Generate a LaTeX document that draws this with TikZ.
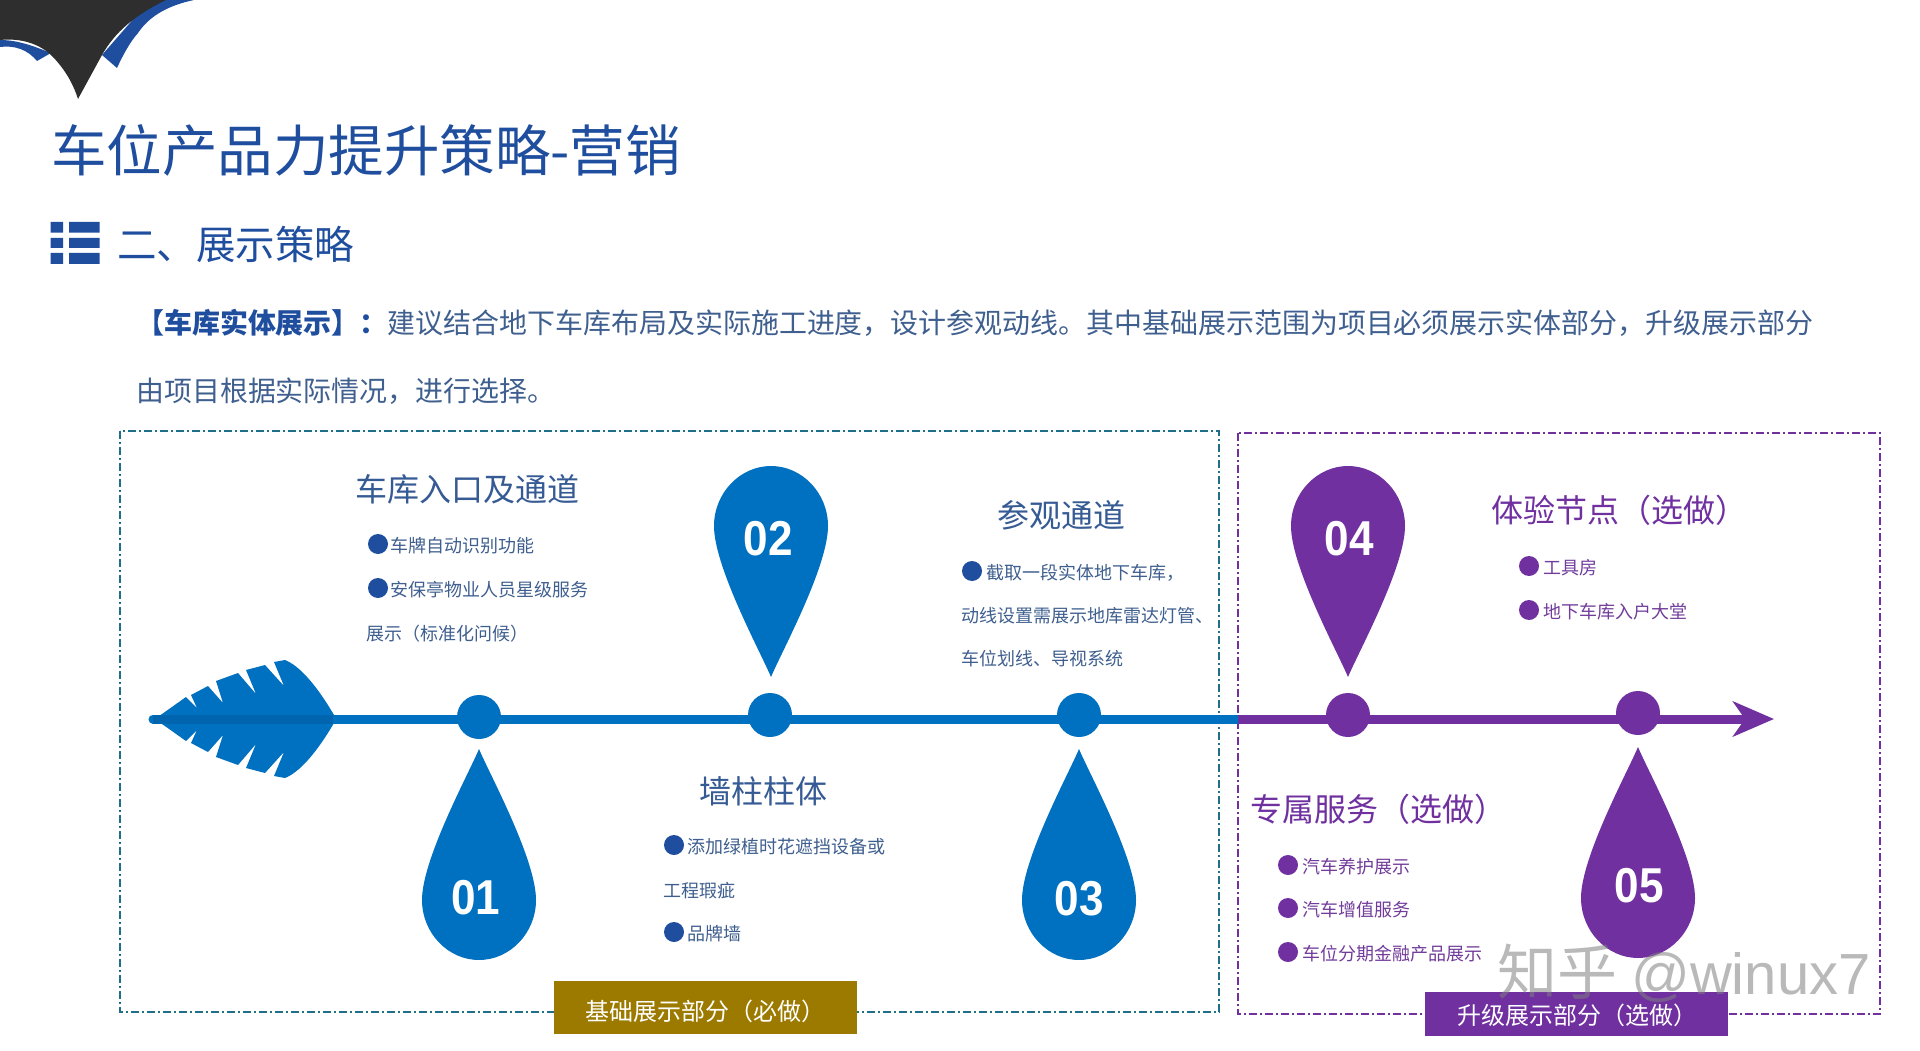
\documentclass[tikz,border=0pt]{standalone}
\usepackage{fontspec}
\setmainfont{Noto Sans CJK SC}
\newfontfamily\numfont{Liberation Sans}
\usepackage{tikz}
\usetikzlibrary{arrows.meta}
\definecolor{navy}{HTML}{1F4E9F}
\definecolor{slate}{HTML}{3F5F8F}
\definecolor{ocean}{HTML}{0070C0}
\definecolor{deepocean}{HTML}{0064AE}
\definecolor{grape}{HTML}{7030A0}
\definecolor{gold}{HTML}{9C7A00}
\definecolor{teal}{HTML}{1F6F8B}
\tikzset{
  txt/.style = {anchor=west, inner sep=0pt, yshift=-1pt, text=slate, font=\fontsize{18}{20}\selectfont},
  purpletxt/.style = {txt, text=grape!85!gray},
  head/.style = {anchor=west, inner sep=0pt, yshift=-1pt, text=slate!70!navy, font=\fontsize{32}{36}\selectfont},
  purplehead/.style = {head, text=grape},
  para/.style = {anchor=west, inner sep=0pt, yshift=-1pt, text=slate, font=\fontsize{27.95}{32}\selectfont},
  dot/.style = {circle, fill=navy, inner sep=0pt, minimum size=20pt},
  purpledot/.style = {dot, fill=grape},
  stop/.style = {circle, fill=ocean, inner sep=0pt, minimum size=44pt},
  purplestop/.style = {stop, fill=grape},
  num/.style = {text=white, inner sep=0pt, yshift=-1pt, xscale=.9, font=\numfont\bfseries\fontsize{49}{52}\selectfont},
  tag/.style = {inner sep=0pt, text=white, font=\fontsize{24}{28}\selectfont},
  zone/.style = {line width=1.3pt, dash pattern=on 8pt off 3pt on 2pt off 3pt},
  droplet/.pic = {
    \fill (0,0) .. controls (10,24) and (57,110) .. (57,151)
      .. controls (57,184) and (31,211) .. (0,211)
      .. controls (-31,211) and (-57,184) .. (-57,151)
      .. controls (-57,110) and (-10,24) .. (0,0) -- cycle;
  },
  halfleaf/.pic = {
    \fill (155,0) -- (186,-22) -- (197,-11) -- (191,-24) -- (208,-33) -- (223,-16)
      -- (216,-38) -- (238,-46) -- (256,-25) -- (246,-49) -- (265,-54) -- (284,-33)
      -- (274,-57) -- (285,-59) .. controls (300,-53) and (317,-33) .. (334,-4)
      -- (334,0) -- cycle;
  }
}
\begin{document}
\begin{tikzpicture}[x=1pt,y=-1pt]
\useasboundingbox (0,0) rectangle (1920,1051);
\fill[white] (0,0) rectangle (1920,1051);

\fill[navy] (0,40) .. controls (20,40) and (38,48) .. (51,53) -- (37,61)
  .. controls (28,50) and (15,45) .. (0,47) -- cycle;
\fill[navy] (102,55) -- (150,0) -- (194,0) .. controls (170,5) and (150,15) .. (138,33)
  .. controls (130,42) and (123,55) .. (117,68) -- cycle;
\fill[black!82] (0,0) -- (166,0) .. controls (135,15) and (115,32) .. (102,55) -- (78,99)
  .. controls (72,80) and (62,66) .. (51,55) .. controls (38,43) and (20,38) .. (0,40) -- cycle;

\node[anchor=west, inner sep=0pt, text=navy, font=\fontsize{55.5}{60}\selectfont] (title) at (51,150) {车位产品力提升策略-营销};
\fill[navy] (50.5,222) rectangle (63,232.7) (69,222) rectangle (99.5,232.7);
\fill[navy] (50.5,238) rectangle (63,248) (69,238) rectangle (99.5,248);
\fill[navy] (50.5,253) rectangle (63,264) (69,253) rectangle (99.5,264);
\node[anchor=west, inner sep=0pt, text=navy, font=\fontsize{39.5}{44}\selectfont] (sub) at (117,244) {二、展示策略};
\node[para] (p1) at (136,322) {{\bfseries\color{navy}【车库实体展示】：}建议结合地下车库布局及实际施工进度，设计参观动线。其中基础展示范围为项目必须展示实体部分，升级展示部分};
\node[para] (p2) at (136,390) {由项目根据实际情况，进行选择。};

\draw[zone, teal] (120,431) rectangle (1219,1012);
\draw[zone, grape] (1238,433) rectangle (1880,1014);

\coordinate (tail) at (153,719);
\coordinate (split) at (1238,719);
\coordinate (tip) at (1774,719);
\pic[ocean] at (0,719) {halfleaf};
\pic[ocean, yscale=-1] at (0,719) {halfleaf};
\draw[line width=9pt, line cap=round, ocean] (tail) -- (split);
\draw[line width=9pt, deepocean] (tail) -- (333,719);
\draw[line width=9pt, grape, -{Stealth[length=41pt,width=35pt,inset=12pt]}] (split) -- (tip);

\node[stop] (s1) at (479,717) {};
\node[stop] (s2) at (770,715) {};
\node[stop] (s3) at (1079,715) {};
\node[purplestop] (s4) at (1348,715) {};
\node[purplestop] (s5) at (1638,713) {};

\pic[ocean] at (479,749) {droplet};
\pic[ocean, yscale=-1] at (771,677) {droplet};
\pic[ocean] at (1079,749) {droplet};
\pic[grape, yscale=-1] at (1348,677) {droplet};
\pic[grape] at (1638,747) {droplet};
\node[num] (n1) at (476,897) {01};
\node[num] (n2) at (768,538) {02};
\node[num] (n3) at (1079,898) {03};
\node[num] (n4) at (1349,538) {04};
\node[num] (n5) at (1639,885) {05};

\node[head] (h1) at (355,488) {车库入口及通道};
\node[dot] (d1) at (378,544) {};
\node[txt] (t1) at (390,545) {车牌自动识别功能};
\node[dot] (d2) at (378,588) {};
\node[txt] (t2) at (390,589) {安保亭物业人员星级服务};
\node[txt] (t3) at (366,633) {展示（标准化问候）};

\node[head] (h2) at (699,790) {墙柱柱体};
\node[dot] (d3) at (674,845) {};
\node[txt] (t4) at (687,846) {添加绿植时花遮挡设备或};
\node[txt] (t5) at (663,890) {工程瑕疵};
\node[dot] (d4) at (674,932) {};
\node[txt] (t6) at (687,933) {品牌墙};

\node[head] (h3) at (997,514) {参观通道};
\node[dot] (d5) at (972,571) {};
\node[txt] (t7) at (986,572) {截取一段实体地下车库，};
\node[txt] (t8) at (961,615) {动线设置需展示地库雷达灯管、};
\node[txt] (t9) at (961,658) {车位划线、导视系统};

\node[purplehead] (h4) at (1491,509) {体验节点（选做）};
\node[purpledot] (d6) at (1529,566) {};
\node[purpletxt] (t10) at (1543,567) {工具房};
\node[purpledot] (d7) at (1529,610) {};
\node[purpletxt] (t11) at (1543,611) {地下车库入户大堂};

\node[purplehead] (h5) at (1250,808) {专属服务（选做）};
\node[purpledot] (d8) at (1288,865) {};
\node[purpletxt] (t12) at (1302,866) {汽车养护展示};
\node[purpledot] (d9) at (1288,908) {};
\node[purpletxt] (t13) at (1302,909) {汽车增值服务};
\node[purpledot] (d10) at (1288,952) {};
\node[purpletxt] (t14) at (1302,953) {车位分期金融产品展示};

\node[tag, fill=gold, minimum width=303pt, minimum height=53pt] (b1) at (705.5,1007.5) {};
\node[tag] (b1t) at (705,1011) {基础展示部分（必做）};
\node[tag, fill=grape, minimum width=303pt, minimum height=44pt] (b2) at (1576.5,1014) {};
\node[tag] (b2t) at (1577,1015) {升级展示部分（选做）};

\node[anchor=west, inner sep=0pt, text=gray, opacity=.55, font=\fontsize{60}{64}\selectfont] (mark) at (1497,973) {知乎\hspace{14pt}{\numfont\fontsize{58}{64}\selectfont @winux7}};
\end{tikzpicture}
\end{document}
